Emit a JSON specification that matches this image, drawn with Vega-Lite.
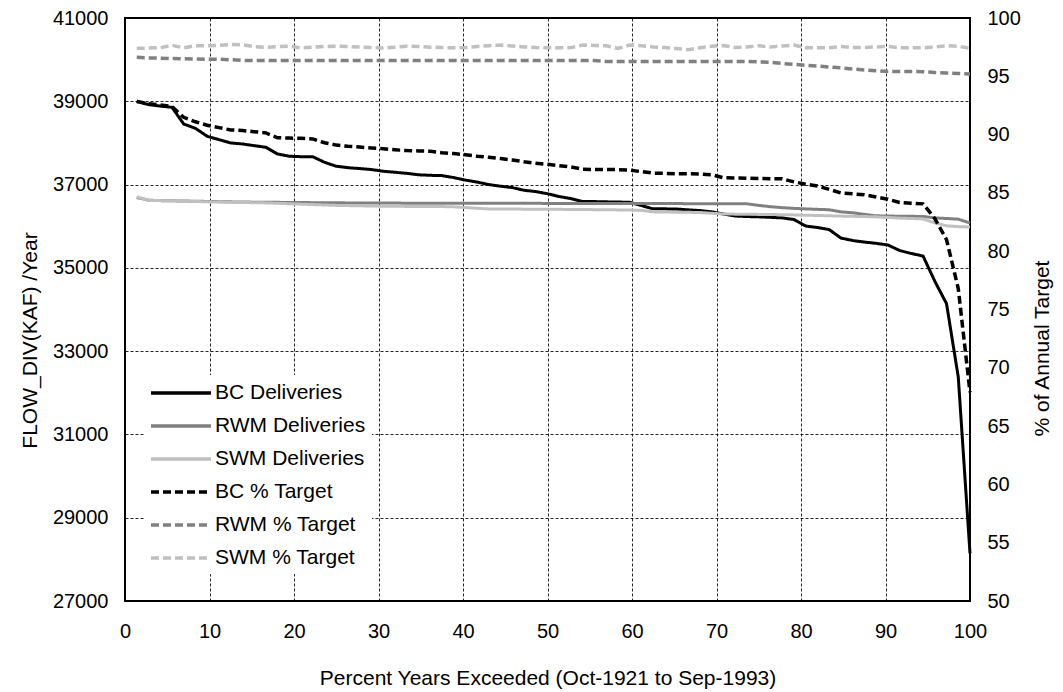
{
  "$schema": "https://vega.github.io/schema/vega-lite/v6.json",
  "width": 845,
  "height": 583,
  "autosize": {"type": "none"},
  "padding": {"left": 125, "top": 18, "right": 93, "bottom": 91},
  "background": "white",
  "config": {
    "font": "Liberation Sans",
    "view": {"stroke": "#000", "strokeWidth": 2},
    "axis": {
      "labelFont": "Liberation Sans",
      "labelFontSize": 20,
      "labelColor": "#000",
      "labelFlush": false,
      "titleFont": "Liberation Sans",
      "titleFontSize": 21,
      "titleFontWeight": "normal",
      "titleColor": "#000",
      "tickSize": 0,
      "domain": false,
      "gridColor": "#000",
      "gridDash": [3, 2],
      "gridWidth": 1,
      "gridOpacity": 0.85
    },
    "legend": {
      "orient": "none",
      "legendX": 20,
      "legendY": 357,
      "fillColor": "white",
      "padding": 6,
      "labelFont": "Liberation Sans",
      "labelFontSize": 21,
      "labelColor": "#000",
      "labelLimit": 400,
      "symbolType": "M-3,0H3",
      "symbolSize": 400,
      "symbolStrokeWidth": 3.5,
      "symbolOffset": 18,
      "labelOffset": 22,
      "rowPadding": 11
    }
  },
  "data": {
    "values": [
      {"p": 1.389, "bc": 39000, "rwm": 36690, "swm": 36710, "bcp": 92.84, "rwmp": 96.63, "swmp": 97.40},
      {"p": 2.778, "bc": 38920, "rwm": 36625, "swm": 36620, "bcp": 92.65, "rwmp": 96.58, "swmp": 97.42},
      {"p": 4.167, "bc": 38885, "rwm": 36615, "swm": 36615, "bcp": 92.55, "rwmp": 96.55, "swmp": 97.45},
      {"p": 5.556, "bc": 38855, "rwm": 36610, "swm": 36610, "bcp": 92.41, "rwmp": 96.52, "swmp": 97.66},
      {"p": 6.944, "bc": 38455, "rwm": 36605, "swm": 36605, "bcp": 91.48, "rwmp": 96.50, "swmp": 97.44},
      {"p": 8.333, "bc": 38350, "rwm": 36600, "swm": 36595, "bcp": 91.10, "rwmp": 96.48, "swmp": 97.63},
      {"p": 9.722, "bc": 38160, "rwm": 36595, "swm": 36585, "bcp": 90.80, "rwmp": 96.47, "swmp": 97.62},
      {"p": 11.111, "bc": 38080, "rwm": 36590, "swm": 36580, "bcp": 90.60, "rwmp": 96.46, "swmp": 97.66},
      {"p": 12.5, "bc": 38000, "rwm": 36585, "swm": 36575, "bcp": 90.40, "rwmp": 96.42, "swmp": 97.72},
      {"p": 13.889, "bc": 37975, "rwm": 36580, "swm": 36570, "bcp": 90.35, "rwmp": 96.36, "swmp": 97.70},
      {"p": 15.278, "bc": 37935, "rwm": 36578, "swm": 36565, "bcp": 90.25, "rwmp": 96.35, "swmp": 97.55},
      {"p": 16.667, "bc": 37895, "rwm": 36575, "swm": 36560, "bcp": 90.15, "rwmp": 96.35, "swmp": 97.49},
      {"p": 18.056, "bc": 37735, "rwm": 36573, "swm": 36550, "bcp": 89.73, "rwmp": 96.35, "swmp": 97.55},
      {"p": 19.444, "bc": 37680, "rwm": 36570, "swm": 36540, "bcp": 89.70, "rwmp": 96.35, "swmp": 97.58},
      {"p": 20.833, "bc": 37670, "rwm": 36568, "swm": 36530, "bcp": 89.68, "rwmp": 96.35, "swmp": 97.44},
      {"p": 22.222, "bc": 37670, "rwm": 36566, "swm": 36520, "bcp": 89.63, "rwmp": 96.35, "swmp": 97.50},
      {"p": 23.611, "bc": 37535, "rwm": 36564, "swm": 36510, "bcp": 89.30, "rwmp": 96.35, "swmp": 97.55},
      {"p": 25, "bc": 37440, "rwm": 36562, "swm": 36500, "bcp": 89.10, "rwmp": 96.35, "swmp": 97.58},
      {"p": 26.389, "bc": 37405, "rwm": 36560, "swm": 36495, "bcp": 89.00, "rwmp": 96.35, "swmp": 97.55},
      {"p": 27.778, "bc": 37385, "rwm": 36558, "swm": 36490, "bcp": 88.93, "rwmp": 96.35, "swmp": 97.52},
      {"p": 29.167, "bc": 37360, "rwm": 36556, "swm": 36485, "bcp": 88.85, "rwmp": 96.35, "swmp": 97.46},
      {"p": 30.556, "bc": 37320, "rwm": 36555, "swm": 36480, "bcp": 88.78, "rwmp": 96.35, "swmp": 97.42},
      {"p": 31.944, "bc": 37295, "rwm": 36555, "swm": 36478, "bcp": 88.70, "rwmp": 96.35, "swmp": 97.50},
      {"p": 33.333, "bc": 37270, "rwm": 36554, "swm": 36476, "bcp": 88.63, "rwmp": 96.35, "swmp": 97.58},
      {"p": 34.722, "bc": 37235, "rwm": 36554, "swm": 36475, "bcp": 88.60, "rwmp": 96.35, "swmp": 97.55},
      {"p": 36.111, "bc": 37222, "rwm": 36553, "swm": 36474, "bcp": 88.57, "rwmp": 96.35, "swmp": 97.50},
      {"p": 37.5, "bc": 37215, "rwm": 36553, "swm": 36472, "bcp": 88.45, "rwmp": 96.35, "swmp": 97.47},
      {"p": 38.889, "bc": 37168, "rwm": 36552, "swm": 36465, "bcp": 88.37, "rwmp": 96.35, "swmp": 97.44},
      {"p": 40.278, "bc": 37108, "rwm": 36552, "swm": 36450, "bcp": 88.28, "rwmp": 96.35, "swmp": 97.46},
      {"p": 41.667, "bc": 37060, "rwm": 36551, "swm": 36430, "bcp": 88.15, "rwmp": 96.35, "swmp": 97.56},
      {"p": 43.056, "bc": 37000, "rwm": 36551, "swm": 36415, "bcp": 88.05, "rwmp": 96.35, "swmp": 97.62},
      {"p": 44.444, "bc": 36960, "rwm": 36550, "swm": 36413, "bcp": 87.95, "rwmp": 96.35, "swmp": 97.68},
      {"p": 45.833, "bc": 36928, "rwm": 36550, "swm": 36412, "bcp": 87.82, "rwmp": 96.35, "swmp": 97.60},
      {"p": 47.222, "bc": 36863, "rwm": 36549, "swm": 36410, "bcp": 87.67, "rwmp": 96.35, "swmp": 97.52},
      {"p": 48.611, "bc": 36832, "rwm": 36549, "swm": 36410, "bcp": 87.55, "rwmp": 96.35, "swmp": 97.46},
      {"p": 50, "bc": 36780, "rwm": 36548, "swm": 36408, "bcp": 87.45, "rwmp": 96.35, "swmp": 97.44},
      {"p": 51.389, "bc": 36712, "rwm": 36548, "swm": 36405, "bcp": 87.33, "rwmp": 96.35, "swmp": 97.44},
      {"p": 52.778, "bc": 36664, "rwm": 36547, "swm": 36403, "bcp": 87.22, "rwmp": 96.35, "swmp": 97.46},
      {"p": 54.167, "bc": 36592, "rwm": 36547, "swm": 36400, "bcp": 87.03, "rwmp": 96.35, "swmp": 97.68},
      {"p": 55.556, "bc": 36592, "rwm": 36546, "swm": 36398, "bcp": 87.01, "rwmp": 96.35, "swmp": 97.65},
      {"p": 56.944, "bc": 36585, "rwm": 36546, "swm": 36395, "bcp": 87.01, "rwmp": 96.28, "swmp": 97.62},
      {"p": 58.333, "bc": 36580, "rwm": 36545, "swm": 36392, "bcp": 87.00, "rwmp": 96.28, "swmp": 97.38},
      {"p": 59.722, "bc": 36575, "rwm": 36545, "swm": 36390, "bcp": 86.95, "rwmp": 96.28, "swmp": 97.68},
      {"p": 61.111, "bc": 36496, "rwm": 36544, "swm": 36380, "bcp": 86.82, "rwmp": 96.28, "swmp": 97.62},
      {"p": 62.5, "bc": 36417, "rwm": 36544, "swm": 36345, "bcp": 86.70, "rwmp": 96.28, "swmp": 97.52},
      {"p": 63.889, "bc": 36417, "rwm": 36543, "swm": 36340, "bcp": 86.67, "rwmp": 96.28, "swmp": 97.46},
      {"p": 65.278, "bc": 36412, "rwm": 36543, "swm": 36337, "bcp": 86.65, "rwmp": 96.28, "swmp": 97.38},
      {"p": 66.667, "bc": 36393, "rwm": 36542, "swm": 36333, "bcp": 86.64, "rwmp": 96.28, "swmp": 97.28},
      {"p": 68.056, "bc": 36376, "rwm": 36542, "swm": 36330, "bcp": 86.62, "rwmp": 96.28, "swmp": 97.45},
      {"p": 69.444, "bc": 36345, "rwm": 36541, "swm": 36310, "bcp": 86.56, "rwmp": 96.28, "swmp": 97.58},
      {"p": 70.833, "bc": 36292, "rwm": 36541, "swm": 36293, "bcp": 86.30, "rwmp": 96.28, "swmp": 97.64},
      {"p": 72.222, "bc": 36244, "rwm": 36540, "swm": 36290, "bcp": 86.28, "rwmp": 96.28, "swmp": 97.48},
      {"p": 73.611, "bc": 36232, "rwm": 36538, "swm": 36287, "bcp": 86.26, "rwmp": 96.28, "swmp": 97.52},
      {"p": 75, "bc": 36225, "rwm": 36500, "swm": 36284, "bcp": 86.24, "rwmp": 96.24, "swmp": 97.62},
      {"p": 76.389, "bc": 36213, "rwm": 36468, "swm": 36280, "bcp": 86.22, "rwmp": 96.20, "swmp": 97.52},
      {"p": 77.778, "bc": 36200, "rwm": 36445, "swm": 36277, "bcp": 86.21, "rwmp": 96.10, "swmp": 97.60},
      {"p": 79.167, "bc": 36160, "rwm": 36428, "swm": 36272, "bcp": 85.95, "rwmp": 96.02, "swmp": 97.68},
      {"p": 80.556, "bc": 36004, "rwm": 36416, "swm": 36265, "bcp": 85.75, "rwmp": 95.95, "swmp": 97.44},
      {"p": 81.944, "bc": 35969, "rwm": 36405, "swm": 36258, "bcp": 85.60, "rwmp": 95.87, "swmp": 97.44},
      {"p": 83.333, "bc": 35920, "rwm": 36395, "swm": 36250, "bcp": 85.30, "rwmp": 95.80, "swmp": 97.44},
      {"p": 84.722, "bc": 35716, "rwm": 36345, "swm": 36243, "bcp": 85.00, "rwmp": 95.72, "swmp": 97.56},
      {"p": 86.111, "bc": 35657, "rwm": 36322, "swm": 36237, "bcp": 84.92, "rwmp": 95.63, "swmp": 97.47},
      {"p": 87.5, "bc": 35620, "rwm": 36285, "swm": 36232, "bcp": 84.84, "rwmp": 95.55, "swmp": 97.46},
      {"p": 88.889, "bc": 35589, "rwm": 36250, "swm": 36225, "bcp": 84.65, "rwmp": 95.48, "swmp": 97.52},
      {"p": 90.278, "bc": 35549, "rwm": 36245, "swm": 36210, "bcp": 84.45, "rwmp": 95.42, "swmp": 97.56},
      {"p": 91.667, "bc": 35417, "rwm": 36240, "swm": 36195, "bcp": 84.18, "rwmp": 95.41, "swmp": 97.45},
      {"p": 93.056, "bc": 35345, "rwm": 36237, "swm": 36185, "bcp": 84.12, "rwmp": 95.41, "swmp": 97.45},
      {"p": 94.444, "bc": 35285, "rwm": 36235, "swm": 36175, "bcp": 84.06, "rwmp": 95.40, "swmp": 97.44},
      {"p": 95.833, "bc": 34680, "rwm": 36200, "swm": 36080, "bcp": 82.80, "rwmp": 95.32, "swmp": 97.52},
      {"p": 97.222, "bc": 34140, "rwm": 36185, "swm": 36010, "bcp": 81.00, "rwmp": 95.28, "swmp": 97.62},
      {"p": 98.611, "bc": 32380, "rwm": 36170, "swm": 35990, "bcp": 76.80, "rwmp": 95.25, "swmp": 97.58},
      {"p": 100, "bc": 28145, "rwm": 36077, "swm": 35980, "bcp": 67.90, "rwmp": 95.20, "swmp": 97.40}
    ]
  },
  "encoding": {
    "x": {
      "field": "p",
      "type": "quantitative",
      "scale": {"domain": [0, 100], "nice": false},
      "axis": {
        "values": [0, 10, 20, 30, 40, 50, 60, 70, 80, 90, 100],
        "title": "Percent Years Exceeded (Oct-1921 to Sep-1993)",
        "labelPadding": 20,
        "titlePadding": 26,
        "grid": true
      }
    }
  },
  "layer": [
    {
      "transform": [{"fold": ["bc", "rwm", "swm"], "as": ["series", "value"]}],
      "mark": {"type": "line", "strokeWidth": 3},
      "encoding": {
        "y": {
          "field": "value",
          "type": "quantitative",
          "scale": {"domain": [27000, 41000], "nice": false, "zero": false},
          "axis": {
            "values": [27000, 29000, 31000, 33000, 35000, 37000, 39000, 41000],
            "format": "d",
            "title": "FLOW_DIV(KAF) /Year",
            "titleY": 322,
            "labelPadding": 17,
            "titlePadding": 12,
            "grid": true
          }
        },
        "color": {
          "field": "series",
          "type": "nominal",
          "scale": {
            "domain": ["bc", "rwm", "swm", "bcp", "rwmp", "swmp"],
            "range": ["#000000", "#808080", "#c0c0c0", "#000000", "#808080", "#c0c0c0"]
          },
          "legend": {
            "title": null,
            "labelExpr": "{'bc': 'BC Deliveries', 'rwm': 'RWM Deliveries', 'swm': 'SWM Deliveries', 'bcp': 'BC % Target', 'rwmp': 'RWM % Target', 'swmp': 'SWM % Target'}[datum.value]"
          }
        },
        "strokeDash": {
          "field": "series",
          "type": "nominal",
          "scale": {
            "domain": ["bc", "rwm", "swm", "bcp", "rwmp", "swmp"],
            "range": [[1, 0], [1, 0], [1, 0], [8, 4], [8, 4], [8, 4]]
          },
          "legend": {
            "title": null,
            "labelExpr": "{'bc': 'BC Deliveries', 'rwm': 'RWM Deliveries', 'swm': 'SWM Deliveries', 'bcp': 'BC % Target', 'rwmp': 'RWM % Target', 'swmp': 'SWM % Target'}[datum.value]"
          }
        }
      }
    },
    {
      "transform": [{"fold": ["bcp", "rwmp", "swmp"], "as": ["series", "value"]}],
      "mark": {"type": "line", "strokeWidth": 3.5},
      "encoding": {
        "y": {
          "field": "value",
          "type": "quantitative",
          "scale": {"domain": [50, 100], "nice": false, "zero": false},
          "axis": {
            "orient": "right",
            "values": [50, 55, 60, 65, 70, 75, 80, 85, 90, 95, 100],
            "title": "% of Annual Target",
            "titleAngle": 270,
            "titleY": 330,
            "labelPadding": 17,
            "titlePadding": 32,
            "grid": false
          }
        },
        "color": {"field": "series", "type": "nominal"},
        "strokeDash": {"field": "series", "type": "nominal"}
      }
    }
  ],
  "resolve": {"scale": {"y": "independent"}}
}
